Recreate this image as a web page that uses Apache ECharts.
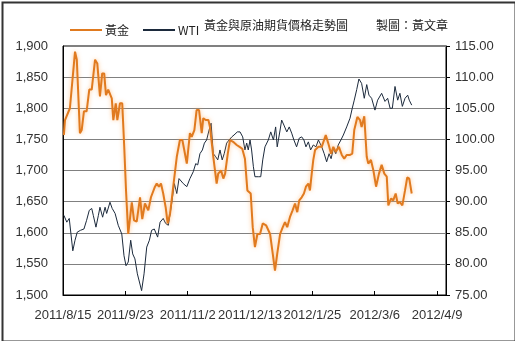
<!DOCTYPE html>
<html>
<head>
<meta charset="utf-8">
<script src="https://cdn.jsdelivr.net/npm/echarts@6/dist/echarts.min.js"></script>
<style>
html,body{margin:0;padding:0;background:#fff;}
#c{width:515px;height:341px;}
</style>
</head>
<body>
<div id="c"></div>
<script>
// Tick labels of the date axis (one every 28 trading days)
var tickLabels = ['2011/8/15','2011/9/23','2011/11/2','2011/12/13','2012/1/25','2012/3/6','2012/4/9'];

// Gold (黃金) — trading-day index and price
var goldDay = [0.4,0.9,3.1,5.4,6.2,7.6,8.4,9.4,10.6,11.8,12.9,14.4,15.4,16.6,17.6,18.5,19.3,20.3,21.9,22.6,23.7,24.4,25.6,26.6,27.5,28.3,29.3,30.1,30.9,31.9,33.1,34.6,35.6,36.8,38.3,39.5,41.3,42.1,43.1,44.0,45.0,46.1,47.0,48.1,49.5,51.1,52.5,53.6,55.6,57.0,57.8,59.0,60.0,61.1,62.3,63.0,64.1,65.3,66.0,67.5,68.3,69.0,69.7,71.0,72.0,72.8,74.0,75.0,76.4,78.0,79.3,80.5,81.7,82.8,84.3,85.2,86.2,87.3,88.5,89.7,91.2,93.0,94.2,95.2,96.2,97.5,98.7,99.7,100.7,101.9,103.1,104.2,105.2,106.1,107.2,108.2,109.1,110.2,110.9,111.7,112.4,113.2,114.7,116.2,118.0,119.1,120.4,121.4,122.5,123.9,125.2,126.3,127.4,128.9,129.9,130.8,132.2,133.4,134.1,135.3,136.4,137.1,138.3,139.4,140.6,141.9,143.1,144.3,145.4,146.1,147.3,148.3,149.4,150.3,151.3,152.4,153.6,154.6,155.5,156.6];
var goldPrice = [1757,1781,1800,1891,1878,1760,1765,1795,1795,1830,1830,1878,1872,1819,1856,1856,1821,1830,1816,1781,1808,1781,1808,1808,1738,1668,1598,1596,1649,1620,1618,1657,1622,1647,1636,1657,1674,1679,1674,1679,1663,1641,1615,1631,1674,1722,1749,1749,1711,1760,1754,1765,1797,1797,1760,1784,1781,1781,1770,1722,1725,1679,1695,1700,1687,1695,1727,1749,1746,1741,1738,1735,1719,1668,1663,1609,1577,1598,1598,1615,1612,1598,1566,1539,1566,1598,1609,1617,1609,1625,1636,1647,1633,1652,1657,1663,1674,1679,1668,1695,1717,1733,1738,1738,1757,1744,1727,1738,1730,1738,1725,1719,1725,1725,1727,1765,1786,1781,1770,1787,1722,1711,1717,1700,1674,1695,1709,1695,1690,1644,1655,1652,1663,1647,1649,1644,1668,1689,1687,1663];

// WTI crude — trading-day index and price
var wtiDay = [0.4,1.7,2.8,4.4,5.4,6.4,7.9,9.4,10.6,11.8,12.9,13.6,14.8,15.9,16.6,17.8,18.9,19.6,21.1,22.1,23.4,24.8,26.4,27.4,28.3,29.3,30.4,31.3,32.3,33.4,35.3,36.4,37.6,38.8,39.8,41.0,42.5,43.6,45.0,46.1,47.3,48.8,50.0,51.1,52.1,54.0,55.6,57.0,58.5,59.6,60.5,61.5,62.6,63.5,64.5,65.6,66.5,67.5,68.6,69.5,70.5,71.5,72.4,73.5,74.6,75.8,76.8,78.3,79.5,80.7,81.7,82.5,83.2,84.0,84.7,85.5,86.2,87.7,88.8,89.7,90.7,92.2,93.3,94.5,95.5,96.2,97.5,98.2,99.2,100.5,101.6,102.7,103.7,104.9,106.1,107.2,108.2,109.1,110.2,111.2,112.4,113.6,114.7,116.2,117.3,118.4,119.5,120.4,121.4,122.5,123.6,124.8,125.9,127.4,128.9,129.9,130.8,131.9,132.9,134.1,135.3,136.4,137.4,138.6,140.1,141.3,143.1,144.6,145.8,146.9,147.9,149.1,150.3,151.3,152.4,153.6,154.8,155.5,156.6];
var wtiPrice = [87.8,86.7,87.3,82.1,83.8,85.1,85.4,85.6,87.0,88.6,88.9,87.8,85.9,87.8,89.1,87.5,89.1,88.1,89.9,88.9,88.1,86.2,84.8,81.3,79.7,80.3,83.8,81.6,80.8,78.4,75.7,78.4,82.7,83.8,85.4,85.6,84.3,86.7,87.3,86.5,86.2,89.7,92.9,91.3,93.7,92.9,92.4,93.7,94.8,96.1,95.9,97.7,98.3,99.4,99.9,101.5,102.6,97.7,97.2,96.7,98.3,96.7,97.7,99.4,99.9,100.4,100.7,101.2,101.2,100.4,98.3,99.4,98.3,99.9,98.3,95.6,94.0,94.0,94.0,96.7,98.8,99.9,101.2,99.9,102.0,98.8,101.5,103.1,102.3,101.2,102.0,101.0,99.9,98.8,100.2,100.4,99.9,98.8,99.6,98.3,99.1,98.8,99.9,98.8,97.7,96.4,97.7,96.9,98.5,97.7,99.1,99.9,100.7,102.0,103.4,105.0,106.3,108.0,109.7,109.0,106.6,108.8,107.1,106.6,104.7,106.3,107.4,106.1,106.6,105.0,105.0,108.5,106.3,107.4,105.3,106.6,107.1,106.3,105.5];

var titleText = '黃金與原油期貨價格走勢圖';
var creditText = '製圖：黃文章';

function pairs(xs, ys){ return xs.map(function(x,i){ return [x, ys[i]]; }); }

var chart = echarts.init(document.getElementById('c'));
var latin = 'Liberation Sans, Arial, sans-serif';
var cjk = '"Noto Sans CJK TC", "Noto Sans CJK SC", sans-serif';
chart.setOption({
  animation: false,
  backgroundColor: '#ffffff',
  grid: {left: 63, top: 46, right: 69, bottom: 46, show: true, borderColor: '#000', borderWidth: 1, backgroundColor: 'transparent'},
  legend: {
    left: 65, top: 19, itemGap: 14, itemWidth: 32, itemHeight: 2, icon: 'rect',
    textStyle: {fontSize: 12, color: '#222', fontFamily: cjk, padding: [0,0,0,-2]},
    data: ['黃金', 'WTI']
  },
  graphic: [
    {type: 'rect', left: 0, top: 0, shape: {width: 513, height: 339}, style: {fill: 'none', stroke: '#333', lineWidth: 2}, silent: true},
    {type: 'text', left: 204, top: 19, style: {text: titleText, font: '12px ' + cjk, fill: '#222'}},
    {type: 'text', left: 376, top: 19, style: {text: creditText, font: '12px ' + cjk, fill: '#222'}}
  ],
  xAxis: {
    type: 'value', min: 0, max: 172, interval: 28,
    axisLine: {show: true, lineStyle: {color: '#000', width: 1}},
    axisTick: {show: true, inside: true, length: 4, lineStyle: {color: '#000'}},
    splitLine: {show: false},
    axisLabel: {
      margin: 14, color: '#333', fontSize: 13, fontFamily: latin, showMaxLabel: true,
      formatter: function(v){ var i = Math.round(v/28); return (v % 28 === 0 && tickLabels[i]) ? tickLabels[i] : ''; }
    }
  },
  yAxis: [
    {
      type: 'value', min: 1500, max: 1900, interval: 50, position: 'left',
      axisLine: {show: true, lineStyle: {color: '#000'}},
      axisTick: {show: false},
      splitLine: {show: true, lineStyle: {color: '#808080', width: 1}},
      axisLabel: {margin: 15, color: '#333', fontSize: 13, fontFamily: latin,
        formatter: function(v){ return v.toLocaleString('en-US'); }}
    },
    {
      type: 'value', min: 75, max: 115, interval: 5, position: 'right',
      axisLine: {show: true, lineStyle: {color: '#000'}},
      axisTick: {show: true, length: 4, lineStyle: {color: '#000'}},
      splitLine: {show: false},
      axisLabel: {margin: 9, color: '#333', fontSize: 13, fontFamily: latin,
        formatter: function(v){ return v.toFixed(2); }}
    }
  ],
  series: [
    {
      name: '黃金', type: 'line', yAxisIndex: 0, showSymbol: false, symbol: 'none',
      data: pairs(goldDay, goldPrice),
      itemStyle: {color: '#e07a1f'},
      lineStyle: {color: '#e07a1f', width: 2, shadowColor: 'rgba(255,170,90,0.7)', shadowBlur: 4},
      z: 3
    },
    {
      name: 'WTI', type: 'line', yAxisIndex: 1, showSymbol: false, symbol: 'none',
      data: pairs(wtiDay, wtiPrice),
      itemStyle: {color: '#1c2a3c'},
      lineStyle: {color: '#1c2a3c', width: 1},
      z: 2
    }
  ]
});
</script>
</body>
</html>
